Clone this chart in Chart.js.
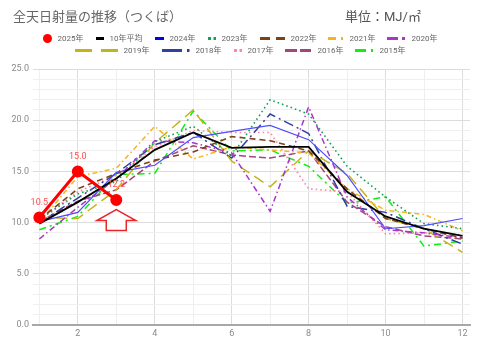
<!DOCTYPE html>
<html>
<head>
<meta charset="utf-8">
<script src="https://cdn.jsdelivr.net/npm/chart.js@4.4.1/dist/chart.umd.min.js"></script>
<style>
    html, body { margin: 0; padding: 0; background: #fff; }
    #wrap { position: relative; width: 480px; height: 345px; font-family: Roboto, 'Noto Sans CJK JP', sans-serif; }
    #title { position: absolute; left: 13px; top: 6px; font-size: 13px; color: #666; font-family: 'Noto Sans CJK JP', sans-serif; }
    #unit { position: absolute; left: 345px; top: 6px; font-size: 13px; color: #555; font-family: Roboto, 'Noto Sans CJK JP', sans-serif; }
    #legend-container { position: absolute; left: 5px; top: 33px; width: 470px; }
    #chart { position: absolute; left: 0; top: 0; }
</style>
</head>
<body>
<div id="wrap">
    <canvas id="chart" width="480" height="345"></canvas>
    <div id="title">全天日射量の推移（つくば）</div>
    <div id="unit">単位：MJ/㎡</div>
    <div id="legend-container"></div>
</div>
<script>
// 月
const months = [1, 2, 3, 4, 5, 6, 7, 8, 9, 10, 11, 12];
// 系列ラベル
const seriesLabels = ['2025年', '10年平均', '2024年', '2023年', '2022年', '2021年', '2020年', '2019年', '2018年', '2017年', '2016年', '2015年'];
// 値 (MJ/㎡)
const y2025 = [10.5, 15.0, 12.2];
const avg10 = [9.9, 12.0, 14.3, 17.1, 18.8, 17.3, 17.4, 17.4, 13.0, 10.6, 9.4, 8.7];
const y2024 = [10.1, 11.0, 14.9, 15.6, 18.3, 18.9, 19.5, 18.1, 14.6, 9.4, 9.7, 10.4];
const y2023 = [10.3, 12.8, 14.0, 17.9, 19.4, 16.5, 22.0, 20.6, 15.5, 12.5, 9.9, 9.4];
const y2022 = [10.3, 13.3, 14.8, 16.1, 16.9, 18.4, 18.0, 17.0, 13.3, 10.4, 9.4, 8.5];
const y2021 = [10.0, 14.5, 15.3, 19.4, 16.2, 17.4, 17.1, 16.8, 13.3, 11.2, 10.8, 9.2];
const y2020 = [8.4, 11.5, 14.3, 18.0, 17.8, 16.8, 11.1, 21.3, 12.5, 9.3, 9.0, 8.5];
const y2019 = [10.5, 10.4, 13.2, 17.8, 21.0, 16.0, 13.5, 17.0, 14.8, 10.4, 9.4, 7.1];
const y2018 = [10.0, 12.4, 14.8, 17.6, 18.8, 16.3, 20.6, 18.7, 11.6, 11.0, 9.4, 7.9];
const y2017 = [10.3, 13.0, 14.6, 17.4, 19.0, 18.8, 18.8, 13.3, 13.0, 8.9, 9.0, 8.8];
const y2016 = [10.1, 12.1, 13.2, 16.0, 17.5, 16.6, 16.3, 17.0, 12.0, 9.6, 8.7, 8.4];
const y2015 = [9.3, 10.6, 14.7, 14.8, 20.9, 17.0, 17.1, 15.5, 11.9, 12.5, 7.7, 8.2];
// 目盛
const yTickMax = 25;
const xTickLabels = [2, 4, 6, 8, 10, 12];

const seriesValues = [y2025, avg10, y2024, y2023, y2022, y2021, y2020, y2019, y2018, y2017, y2016, y2015];

// 線のスタイル (色, 太さ, 破線, レジェンド用の破線と幅)
const lineStyles = [
    { color: '#ff0000', width: 3, dash: [], legend: 'dot' },
    { color: '#000000', width: 1.8, dash: [], legendDash: [], legendW: 8 },
    { color: '#4d4dff', width: 1.2, dash: [], legendDash: [], legendW: 9, legendColor: '#0000ff' },
    { color: '#14a058', width: 1.6, dash: [1.6, 3], legendDash: [3, 2.5], legendW: 8 },
    { color: '#7e4314', width: 1.6, dash: [6, 4], legendDash: [10, 6], legendW: 25 },
    { color: '#f4b51c', width: 1.5, dash: [5, 3, 1.5, 3], legendDash: [8, 5, 2, 5], legendW: 15 },
    { color: '#a936c9', width: 1.5, dash: [6, 3, 1.5, 3], legendDash: [11, 4, 3, 4], legendW: 18 },
    { color: '#c4b41c', width: 1.5, dash: [11, 6], legendDash: [17, 9], legendW: 43 },
    { color: '#3040a0', width: 1.5, dash: [10, 4, 2, 4], legendDash: [20, 5, 2.5, 5], legendW: 28 },
    { color: '#ff85aa', width: 1.6, dash: [1.6, 3], legendDash: [3, 2.5], legendW: 8 },
    { color: '#a5457c', width: 1.5, dash: [7, 3], legendDash: [12, 3], legendW: 26 },
    { color: '#11ee11', width: 1.5, dash: [7, 4, 2, 4], legendDash: [11, 5, 3, 5], legendW: 18 }
];

const ChartManager = {
    //HTMLレジェンド
    htmlLegendPlugin: {
        id: 'htmlLegend',
        afterUpdate(chart, args, options) {
            const box = document.getElementById(options.containerID);
            while (box.firstChild) {
                box.firstChild.remove();
            }
            const ul = document.createElement('ul');
            ul.style.margin = 0;
            ul.style.padding = 0;
            ul.style.listStyle = 'none';
            ul.style.display = 'flex';
            ul.style.flexWrap = 'wrap';
            ul.style.justifyContent = 'center';
            ul.style.columnGap = '12px';
            box.appendChild(ul);

            chart.data.datasets.forEach((ds, i) => {
                const st = lineStyles[i];
                const li = document.createElement('li');
                li.style.display = 'flex';
                li.style.alignItems = 'center';
                li.style.gap = '6px';
                li.style.height = '11.5px';

                const w = st.legend === 'dot' ? 9 : st.legendW;
                const cv = document.createElement('canvas');
                cv.width = w;
                cv.height = 11;
                const c = cv.getContext('2d');
                if (st.legend === 'dot') {
                    c.fillStyle = st.color;
                    c.beginPath();
                    c.arc(4.5, 5.5, 4.5, 0, Math.PI * 2);
                    c.fill();
                } else {
                    c.strokeStyle = st.legendColor || st.color;
                    c.lineWidth = 3;
                    c.setLineDash(st.legendDash);
                    c.beginPath();
                    c.moveTo(0, 5.5);
                    c.lineTo(w, 5.5);
                    c.stroke();
                }

                const txt = document.createElement('span');
                txt.style.color = '#666';
                txt.style.fontSize = '8px';
                txt.style.lineHeight = '11px';
                txt.textContent = ds.label;

                li.appendChild(cv);
                li.appendChild(txt);
                ul.appendChild(li);
            });
        }
    },
    //2025年の値ラベルと矢印
    markPlugin: {
        id: 'marks',
        afterDatasetsDraw(chart) {
            const ctx = chart.ctx;
            const meta = chart.getDatasetMeta(0);
            ctx.save();
            ctx.font = '9px Roboto';
            ctx.fillStyle = '#ff4d4d';
            ctx.textAlign = 'center';
            ctx.textBaseline = 'middle';
            meta.data.forEach((pt, i) => {
                ctx.fillText(y2025[i].toFixed(1), pt.x, pt.y - 15);
            });

            const last = meta.data[meta.data.length - 1];
            const cx = last.x;
            const tip = last.y + 9.5;
            ctx.beginPath();
            ctx.moveTo(cx, tip);
            ctx.lineTo(cx + 19.5, tip + 11);
            ctx.lineTo(cx + 10, tip + 11);
            ctx.lineTo(cx + 10, tip + 21);
            ctx.lineTo(cx - 10, tip + 21);
            ctx.lineTo(cx - 10, tip + 11);
            ctx.lineTo(cx - 19.5, tip + 11);
            ctx.closePath();
            ctx.fillStyle = '#fff';
            ctx.fill();
            ctx.strokeStyle = '#e8262b';
            ctx.lineWidth = 1.5;
            ctx.stroke();
            ctx.restore();
        }
    },
    createChart(ctx) {
        const datasets = seriesValues.map((vals, i) => ({
            label: seriesLabels[i],
            data: vals.map((v, j) => ({ x: months[j], y: v })),
            borderColor: lineStyles[i].color,
            backgroundColor: lineStyles[i].color,
            borderWidth: lineStyles[i].width,
            borderDash: lineStyles[i].dash,
            pointRadius: i === 0 ? 4.5 : 0,
            pointHoverRadius: 0,
            tension: 0
        }));

        return new Chart(ctx, {
            type: 'line',
            data: { datasets },
            options: this.getChartOptions(),
            plugins: [this.htmlLegendPlugin, this.markPlugin]
        });
    },
    getChartOptions() {
        const major = '#dcdcdc';
        const minor = '#efefef';
        return {
            responsive: false,
            animation: false,
            layout: { padding: { top: 69, right: 10, bottom: 0, left: 0 } },
            plugins: {
                legend: { display: false },
                tooltip: { enabled: false },
                htmlLegend: { containerID: 'legend-container' }
            },
            scales: {
                x: {
                    type: 'linear',
                    min: 0.835,
                    max: 12.195,
                    afterBuildTicks: s => { s.ticks = months.map(m => ({ value: m })); },
                    afterFit: s => { s.height = 20; },
                    border: { display: true, color: '#a8a8a8', width: 2 },
                    grid: {
                        drawTicks: false,
                        color: c => (xTickLabels.includes(c.tick.value) ? major : minor)
                    },
                    ticks: {
                        padding: 3,
                        maxRotation: 0,
                        autoSkip: false,
                        color: '#8a8a8a',
                        font: { family: 'Roboto', size: 9 },
                        callback: v => (xTickLabels.includes(v) ? String(v) : '')
                    }
                },
                y: {
                    min: 0,
                    max: yTickMax,
                    afterFit: s => { s.width = 33; },
                    border: { display: false },
                    grid: {
                        drawTicks: false,
                        color: c => (c.tick.value % 5 === 0 ? major : minor)
                    },
                    ticks: {
                        stepSize: 1,
                        padding: 4,
                        autoSkip: false,
                        color: '#8a8a8a',
                        font: { family: 'Roboto', size: 9 },
                        callback: v => (v % 5 === 0 ? v.toFixed(1) : '')
                    }
                }
            }
        };
    }
};

ChartManager.createChart(document.getElementById('chart'));
</script>
</body>
</html>
